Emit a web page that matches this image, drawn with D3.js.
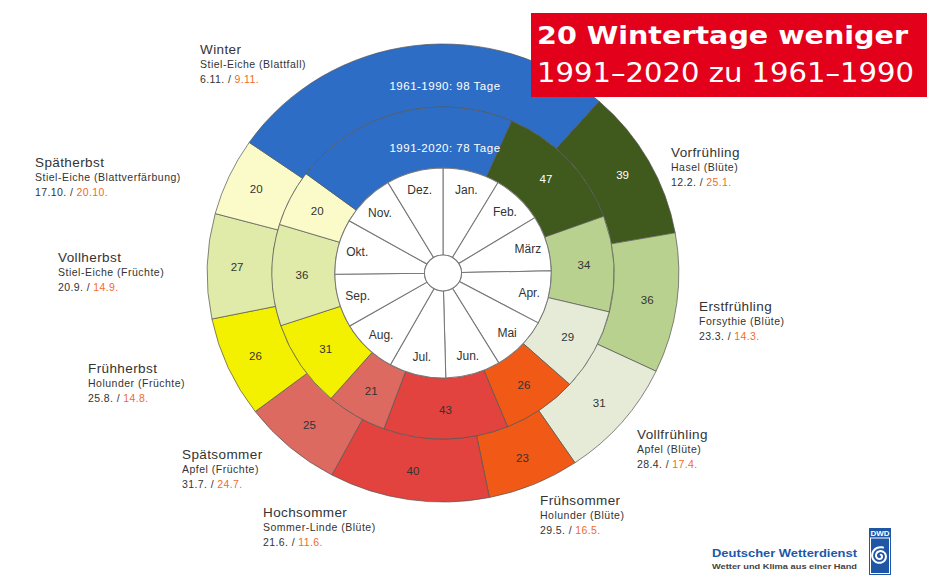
<!DOCTYPE html>
<html lang="de">
<head>
<meta charset="UTF-8">
<title>20 Wintertage weniger</title>
<script src="https://cdn.jsdelivr.net/npm/d3@7"></script>
<style>
  body { margin: 0; background: #fff; }
  svg { display: block; font-family: "Liberation Sans", Arial, sans-serif; }
</style>
</head>
<body>
<svg id="chart" width="927" height="577"></svg>
<script>
// Phänologische Jahreszeiten, beginnend mit dem Vorfrühling
const seasons = ["Vorfrühling", "Erstfrühling", "Vollfrühling", "Frühsommer", "Hochsommer",
  "Spätsommer", "Frühherbst", "Vollherbst", "Spätherbst", "Winter"];
const species = ["Hasel (Blüte)", "Forsythie (Blüte)", "Apfel (Blüte)", "Holunder (Blüte)",
  "Sommer-Linde (Blüte)", "Apfel (Früchte)", "Holunder (Früchte)", "Stiel-Eiche (Früchte)",
  "Stiel-Eiche (Blattverfärbung)", "Stiel-Eiche (Blattfall)"];
// Beginn 1961-1990 / 1991-2020
const startOld = ["12.2.", "23.3.", "28.4.", "29.5.", "21.6.", "31.7.", "25.8.", "20.9.", "17.10.", "6.11."];
const startNew = ["25.1.", "14.3.", "17.4.", "16.5.", "11.6.", "24.7.", "14.8.", "14.9.", "20.10.", "9.11."];
// Dauer in Tagen
const daysOld = [39, 36, 31, 23, 40, 25, 26, 27, 20, 98];
const daysNew = [47, 34, 29, 26, 43, 21, 31, 36, 20, 78];
const periods = ["1961-1990", "1991-2020"];
const months = ["Jan.", "Feb.", "März", "Apr.", "Mai", "Jun.", "Jul.", "Aug.", "Sep.", "Okt.", "Nov.", "Dez."];
const monthStarts = [0, 31, 59, 90, 120, 151, 181, 212, 243, 273, 304, 334];

// Farben und Lage der Beschriftungen
const colors = ["#405a1e", "#b9d18f", "#e6ebd8", "#f05a16", "#e3433e", "#dc6a60",
  "#f4f100", "#e1eba9", "#fbfbc9", "#2e6dc6"];
const labelPos = [[671, 152], [699, 306], [637, 434], [540, 500], [263, 512],
  [182, 454], [88, 368], [58, 257], [35, 162], [200, 49]];

const cx = 443, cy = 273, sx = 1.03;
const rC = 18, rM = 105, rI = 166, rO = 229;

const svg = d3.select("#chart");
const angle = d3.scaleLinear().domain([0, 365]).range([0, 2 * Math.PI]);

function dayOfYear(s) {
  const p = s.split(".");
  return monthStarts[+p[1] - 1] + (+p[0]) - 1;
}

function segments(starts, days) {
  let s = dayOfYear(starts[0]);
  return days.map((d, i) => {
    const seg = { i, start: s, end: s + d, days: d };
    s += d;
    return seg;
  });
}

const rings = [
  { segs: segments(startOld, daysOld), r0: rI, r1: rO, lr: 200, period: periods[0], wr: 187 },
  { segs: segments(startNew, daysNew), r0: rM, r1: rI, lr: 137, period: periods[1], wr: 125 }
];

const g = svg.append("g").attr("transform", `translate(${cx},${cy}) scale(${sx},1)`);
const gt = svg.append("g").attr("transform", `translate(${cx},${cy})`);

rings.forEach(ring => {
  const arc = d3.arc().innerRadius(ring.r0).outerRadius(ring.r1)
    .startAngle(d => angle(d.start)).endAngle(d => angle(d.end));
  g.selectAll(null).data(ring.segs).enter().append("path")
    .attr("d", arc)
    .attr("fill", d => colors[d.i])
    .attr("stroke", "#555")
    .attr("stroke-width", 0.7);

  const lab = d3.arc().innerRadius(ring.lr).outerRadius(ring.lr)
    .startAngle(d => angle(d.start)).endAngle(d => angle(d.end));
  ring.segs.forEach(d => {
    const winter = seasons[d.i] === "Winter";
    const c = lab.centroid(d);
    gt.append("text")
      .attr("x", winter ? 2 : c[0] * sx)
      .attr("y", winter ? -ring.wr : c[1])
      .attr("dy", "0.35em")
      .attr("text-anchor", "middle")
      .attr("font-size", winter ? 11.5 : 11.5)
      .attr("letter-spacing", winter ? 0.5 : 0)
      .attr("fill", d3.hsl(colors[d.i]).l < 0.4 || winter ? "#fff" : "#333")
      .text(winter ? `${ring.period}: ${d.days} Tage` : d.days);
  });
});

// Monatsring
const mSegs = monthStarts.map((s, i) => ({ i, start: s, end: i < 11 ? monthStarts[i + 1] : 365 }));
const mArc = d3.arc().innerRadius(rC).outerRadius(rM)
  .startAngle(d => angle(d.start)).endAngle(d => angle(d.end));
g.selectAll(null).data(mSegs).enter().append("path")
  .attr("d", mArc)
  .attr("fill", "#fff")
  .attr("stroke", "#777")
  .attr("stroke-width", 1);
g.append("circle").attr("r", rC).attr("fill", "#fff").attr("stroke", "#777");

const mLab = d3.arc().innerRadius(86).outerRadius(86)
  .startAngle(d => angle(d.start)).endAngle(d => angle(d.end));
mSegs.forEach(d => {
  const c = mLab.centroid(d);
  gt.append("text")
    .attr("x", c[0] * sx).attr("y", c[1])
    .attr("dy", "0.35em")
    .attr("text-anchor", "middle")
    .attr("font-size", 12)
    .attr("fill", "#333")
    .text(months[d.i]);
});

// Beschriftung der Jahreszeiten
seasons.forEach((s, i) => {
  const [x, y] = labelPos[i];
  const t = svg.append("g").attr("fill", "#333");
  t.append("text").attr("x", x).attr("y", y + 4.5)
    .attr("font-size", 13.5).attr("letter-spacing", 0.4).text(s);
  t.append("text").attr("x", x).attr("y", y + 18.5)
    .attr("font-size", 10.5).attr("letter-spacing", 0.5).text(species[i]);
  const dt = t.append("text").attr("x", x).attr("y", y + 34)
    .attr("font-size", 10.5).attr("letter-spacing", 0.4);
  dt.append("tspan").text(`${startOld[i]} / `);
  dt.append("tspan").attr("fill", "#f26b2a").text(startNew[i]);
});

// Titelkasten
svg.append("rect").attr("x", 531).attr("y", 13).attr("width", 396).attr("height", 84)
  .attr("fill", "#e2001a");
svg.append("text").attr("x", 537).attr("y", 44)
  .attr("font-family", "DejaVu Sans").attr("font-weight", "bold").attr("font-size", 25)
  .attr("fill", "#fff").attr("textLength", 371).attr("lengthAdjust", "spacingAndGlyphs")
  .text("20 Wintertage weniger");
svg.append("text").attr("x", 537).attr("y", 82)
  .attr("font-family", "DejaVu Sans").attr("font-size", 26)
  .attr("fill", "#fff").attr("textLength", 377).attr("lengthAdjust", "spacingAndGlyphs")
  .text("1991–2020 zu 1961–1990");

// DWD Logo
svg.append("text").attr("x", 712).attr("y", 557)
  .attr("font-weight", "bold").attr("font-size", 11).attr("fill", "#1d57a8")
  .attr("textLength", 145).attr("lengthAdjust", "spacingAndGlyphs")
  .text("Deutscher Wetterdienst");
svg.append("text").attr("x", 712).attr("y", 569)
  .attr("font-weight", "bold").attr("font-size", 7).attr("fill", "#444")
  .attr("textLength", 145).attr("lengthAdjust", "spacingAndGlyphs")
  .text("Wetter und Klima aus einer Hand");
svg.append("rect").attr("x", 869).attr("y", 528).attr("width", 22).attr("height", 47)
  .attr("fill", "#1f56a6");
svg.append("rect").attr("x", 870.5).attr("y", 538).attr("width", 19).attr("height", 35.5)
  .attr("fill", "none").attr("stroke", "#fff").attr("stroke-width", 1);
svg.append("text").attr("x", 880).attr("y", 536).attr("text-anchor", "middle")
  .attr("font-size", 8).attr("font-weight", "bold").attr("fill", "#fff").text("DWD");
const spiral = d3.range(0, 4.2 * Math.PI, 0.2).map(t => [t, 1 + t * 0.62]);
svg.append("path")
  .attr("transform", "translate(880,556)")
  .attr("d", d3.lineRadial().curve(d3.curveCatmullRom)(spiral))
  .attr("fill", "none").attr("stroke", "#fff").attr("stroke-width", 2);
</script>
</body>
</html>
